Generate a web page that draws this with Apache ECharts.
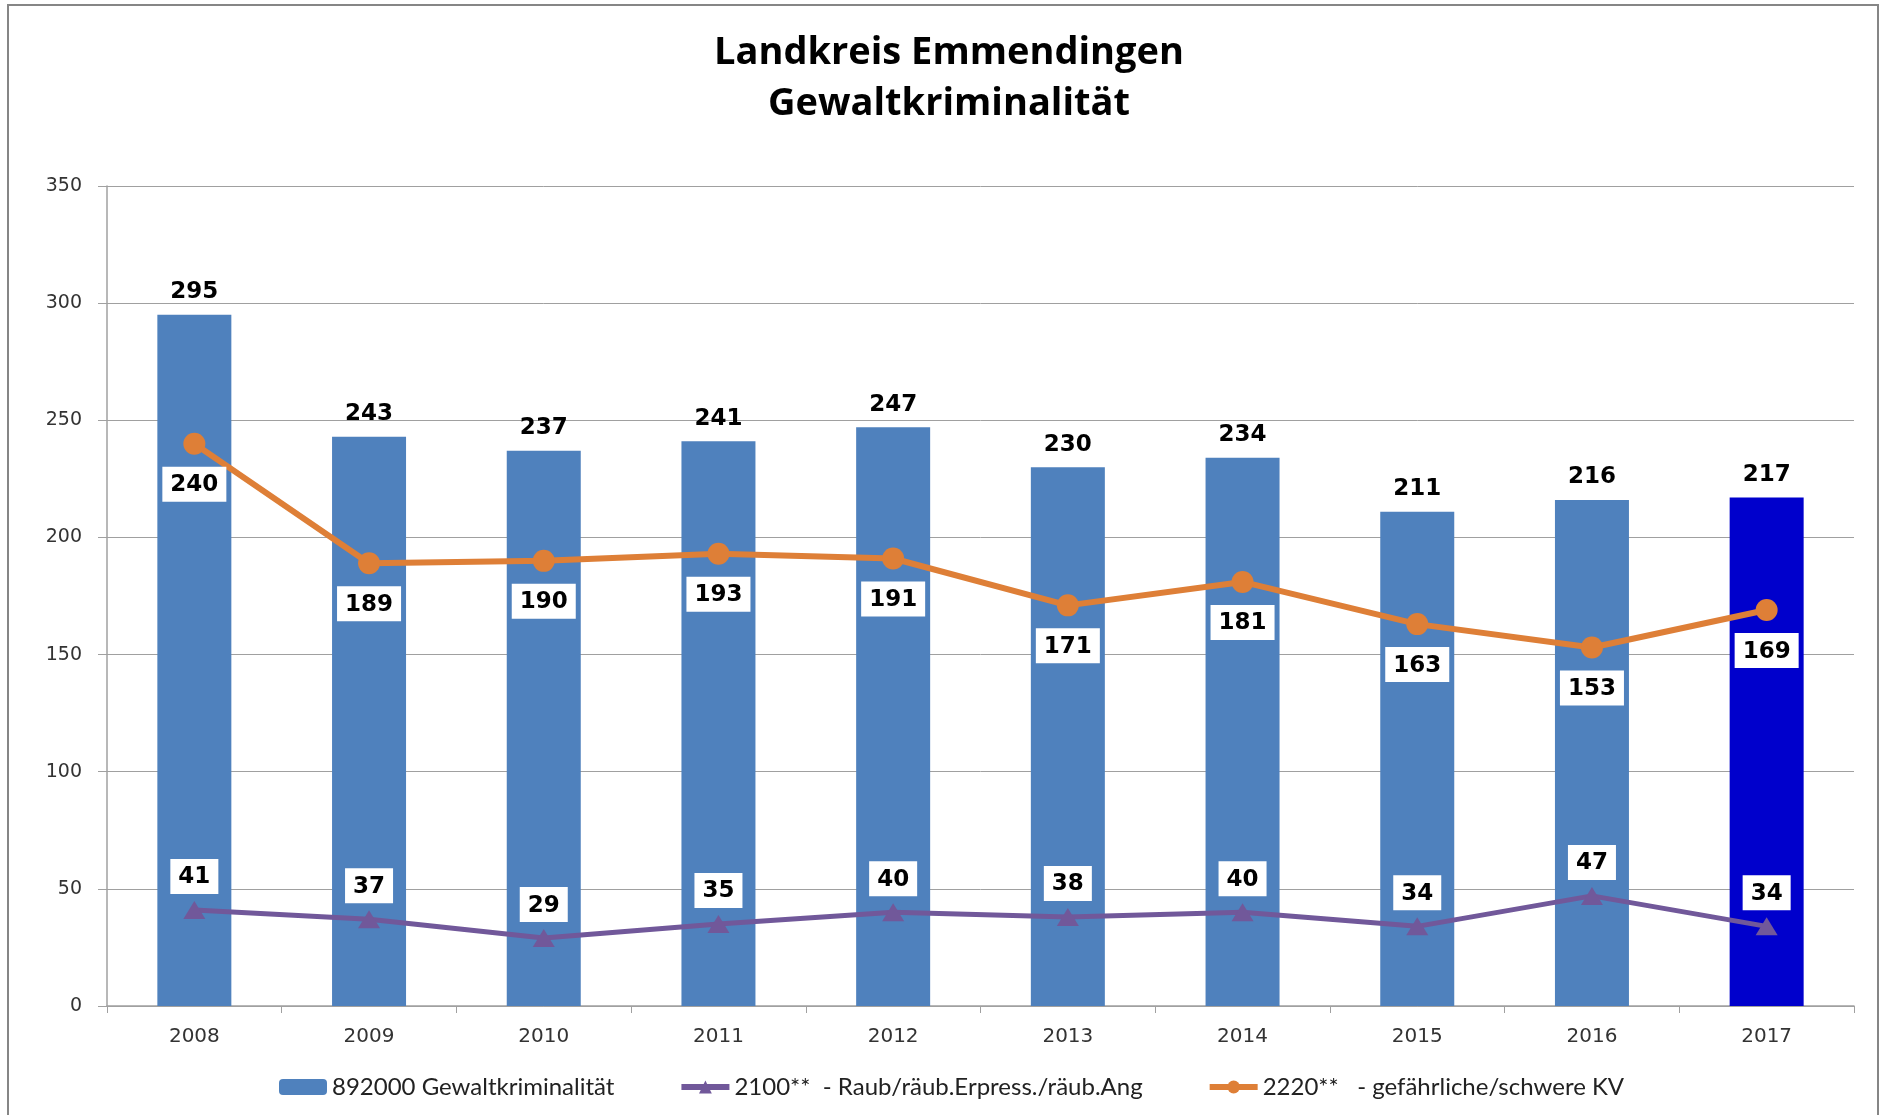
<!DOCTYPE html>
<html>
<head>
<meta charset="utf-8">
<script src="https://cdn.jsdelivr.net/npm/echarts@6/dist/echarts.min.js"></script>
<style>
	html, body { margin: 0; padding: 0; background: #fff; }
	#chart { width: 1881px; height: 1115px; }
</style>
</head>
<body>
<div id="chart"></div>
<script>
// Werte
var years = ['2008', '2009', '2010', '2011', '2012', '2013', '2014', '2015', '2016', '2017']
var gewalt = [295, 243, 237, 241, 247, 230, 234, 211, 216, 217]
var raub = [41, 37, 29, 35, 40, 38, 40, 34, 47, 34]
var kv = [240, 189, 190, 193, 191, 171, 181, 163, 153, 169]
var yTicks = [0, 50, 100, 150, 200, 250, 300, 350]

var names = ['892000 Gewaltkriminalität', '2100**  - Raub/räub.Erpress./räub.Ang', '2220**   - gefährliche/schwere KV']

var myChart = echarts.init(document.getElementById('chart'))

var boxLabel = {
	show: true,
	backgroundColor: '#fff',
	padding: [7, 8, 5, 8],
	color: '#000',
	fontFamily: 'DejaVu Sans',
	fontWeight: 'bold',
	fontSize: 23
}

myChart.setOption({
	animation: false,
	backgroundColor: '#fff',
	graphic: [{
		type: 'rect',
		shape: { x: 8, y: 5, width: 1870, height: 1130 },
		style: { fill: 'none', stroke: '#868686', lineWidth: 2 },
		z: 100
	}],
	title: {
		text: 'Landkreis Emmendingen\nGewaltkriminalität',
		left: 944,
		textAlign: 'center',
		top: 23,
		textStyle: {
			fontFamily: 'Open Sans',
			fontWeight: 'bold',
			fontSize: 38,
			lineHeight: 51,
			color: '#000'
		}
	},
	legend: {
		left: 274,
		top: 1070,
		itemWidth: 48,
		itemHeight: 16,
		itemGap: 64,
		textStyle: { fontFamily: 'Lato', fontSize: 24, color: '#222' },
		data: [
			{ name: names[0], itemStyle: { color: '#4F81BD' } },
			{ name: names[1], lineStyle: { width: 6 } },
			{ name: names[2], lineStyle: { width: 6 } }
		]
	},
	grid: { left: 107, right: 27, top: 186, bottom: 109 },
	xAxis: {
		type: 'category',
		data: years,
		axisLine: { lineStyle: { color: '#a0a0a0', width: 1.5 } },
		axisTick: { show: true, length: 7, lineStyle: { color: '#a0a0a0' } },
		axisLabel: { margin: 21, color: '#333', fontFamily: 'DejaVu Sans', fontSize: 20 }
	},
	yAxis: {
		type: 'value',
		min: 0,
		max: 350,
		interval: 50,
		axisLine: { show: true, lineStyle: { color: '#a0a0a0', width: 1.5 } },
		axisTick: { show: true, length: 9, lineStyle: { color: '#a0a0a0' } },
		axisLabel: {
			margin: 25, color: '#333', fontFamily: 'DejaVu Sans', fontSize: 19,
			formatter: function (v) { return yTicks.indexOf(v) >= 0 ? v : '' }
		},
		splitLine: { show: true, lineStyle: { color: '#a0a0a0', width: 1 } }
	},
	series: [{
		name: names[0],
		type: 'bar',
		barWidth: 74,
		itemStyle: { color: '#4F81BD' },
		label: {
			show: true, position: 'top', distance: 11,
			color: '#000', fontFamily: 'DejaVu Sans', fontWeight: 'bold', fontSize: 23
		},
		data: gewalt.map(function (v, i) {
			return i === gewalt.length - 1 ? { value: v, itemStyle: { color: '#0000CC' } } : v
		}),
		z: 2
	}, {
		name: names[1],
		type: 'line',
		symbol: 'triangle',
		symbolSize: [22, 18],
		lineStyle: { color: '#71589A', width: 5 },
		itemStyle: { color: '#71589A' },
		label: Object.assign({}, boxLabel, { position: 'top', distance: 7 }),
		data: raub,
		z: 5
	}, {
		name: names[2],
		type: 'line',
		symbol: 'circle',
		symbolSize: 22,
		lineStyle: { color: '#DE7F37', width: 6 },
		itemStyle: { color: '#DE7F37' },
		label: Object.assign({}, boxLabel, { position: 'bottom', distance: 12 }),
		data: kv,
		z: 5
	}]
})
</script>
</body>
</html>
